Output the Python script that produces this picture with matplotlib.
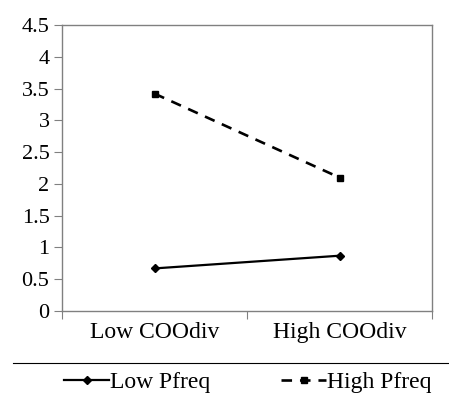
import matplotlib.pyplot as plt
from matplotlib.lines import Line2D

plt.rcParams['font.family'] = ['Liberation Serif', 'DejaVu Serif']
plt.rcParams['font.size'] = 16

# data
categories = ['Low COOdiv', 'High COOdiv']
low_pfreq = [0.67, 0.87]
high_pfreq = [3.42, 2.10]
y_ticks = [0, 0.5, 1, 1.5, 2, 2.5, 3, 3.5, 4, 4.5]
y_labels = ['0', '0.5', '1', '1.5', '2', '2.5', '3', '3.5', '4', '4.5']

W, H = 449, 394
fig = plt.figure(figsize=(W / 100, H / 100), dpi=100)
ax = fig.add_axes([62 / W, 1 - 311 / H, 370 / W, 286 / H])

x = [0.5, 1.5]
ax.plot(x, low_pfreq, color='black', lw=1.6, marker='D', markersize=4.5,
        label='Low Pfreq')
ax.plot(x, high_pfreq, color='black', lw=1.9, ls=(0, (4, 3)), marker='s',
        markersize=5, label='High Pfreq')

ax.set_xlim(0, 2)
ax.set_ylim(0, 4.5)
ax.set_yticks(y_ticks)
ax.set_yticklabels(y_labels)
ax.set_xticks([0, 1, 2])
ax.set_xticklabels([])
ax.set_xticks(x, minor=True)
ax.set_xticklabels(categories, minor=True, fontsize=17)
ax.tick_params(axis='x', which='minor', length=0, pad=8)
ax.tick_params(axis='x', which='major', length=6, direction='out', color='#808080')
ax.tick_params(axis='y', length=6, direction='out', color='#808080', pad=3)
for s in ax.spines.values():
    s.set_color('#808080')
    s.set_linewidth(1.0)

# legend separator line
fig.add_artist(Line2D([13 / W, 1.0], [1 - 363 / H, 1 - 363 / H], color='black', lw=0.8))

h, l = ax.get_legend_handles_labels()
fig.legend(h, l, loc='center', bbox_to_anchor=(248 / W, 1 - 382 / H), ncol=2,
           frameon=False, handlelength=1.9, handletextpad=0.05, columnspacing=3.0,
           fontsize=17)

fig.savefig('out.png', dpi=100)
